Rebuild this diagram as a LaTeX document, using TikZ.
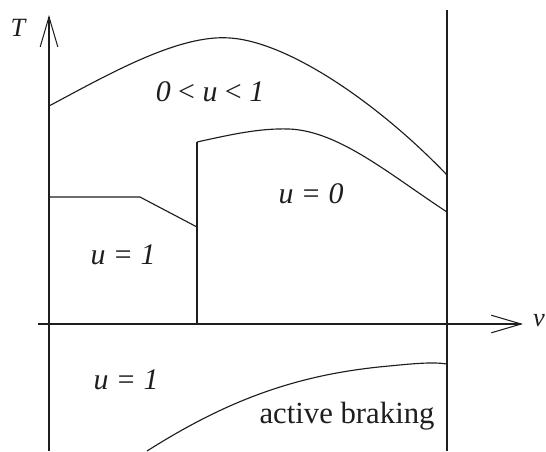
\documentclass[tikz,border=0pt]{standalone}
\usepackage{fontspec}
\setmainfont{Liberation Serif}
\usepackage{tikz}
\usetikzlibrary{arrows.meta}
\definecolor{ink}{HTML}{1E1E1E}
\tikzset{
  curve/.style={ink,line width=0.65pt},
  axis/.style={ink,line width=0.6pt,-{Straight Barb[length=17pt,width=10pt,line width=0.6pt]}},
  region/.style={font=\fontsize{17}{20}\selectfont\itshape,text=ink,inner sep=0pt},
  axlabel/.style={font=\fontsize{15}{17}\selectfont\itshape,text=ink,inner sep=0pt}
}
\begin{document}
\begin{tikzpicture}[x=0.02cm,y=0.02cm]
\useasboundingbox (-49,-127) rectangle (497,324);
% axes
\draw[axis] (0,-127) -- (0,309);
\draw[axis] (-11,0) -- (474,0);
\node[axlabel] (tlab) at (-31,296) {T};
\node[axlabel] (vlab) at (490,3) {v};
% end of the speed range
\draw[curve] (398,-127) -- (398,314);
% upper limit of the torque
\draw[curve] (0,218) .. controls (60,250) and (130,290) .. (181,286)
  .. controls (240,282) and (330,220) .. (398,149);
% coasting boundary
\draw[curve] (148,0) -- (148,182);
\draw[curve] (148,182) .. controls (180,189) and (210,196) .. (240,195)
  .. controls (290,193) and (340,150) .. (398,112);
% full traction step
\draw[curve] (0,127) -- (91,127) -- (148,97);
% braking limit
\draw[curve] (98,-127) .. controls (180,-75) and (250,-50) .. (340,-42)
  .. controls (370,-39) and (385,-38) .. (398,-40);
% region labels
\node[region] (mid) at (161,232) {0 {\upshape<} u {\upshape<} 1};
\node[region] (zero) at (262,130) {u = 0};
\node[region] (one) at (74,69) {u = 1};
\node[region] (oneb) at (77,-56) {u = 1};
\node[font=\fontsize{17.5}{20}\selectfont,text=ink,inner sep=0pt,anchor=base] (brake)
  at (298,-99) {active braking};
\end{tikzpicture}
\end{document}
